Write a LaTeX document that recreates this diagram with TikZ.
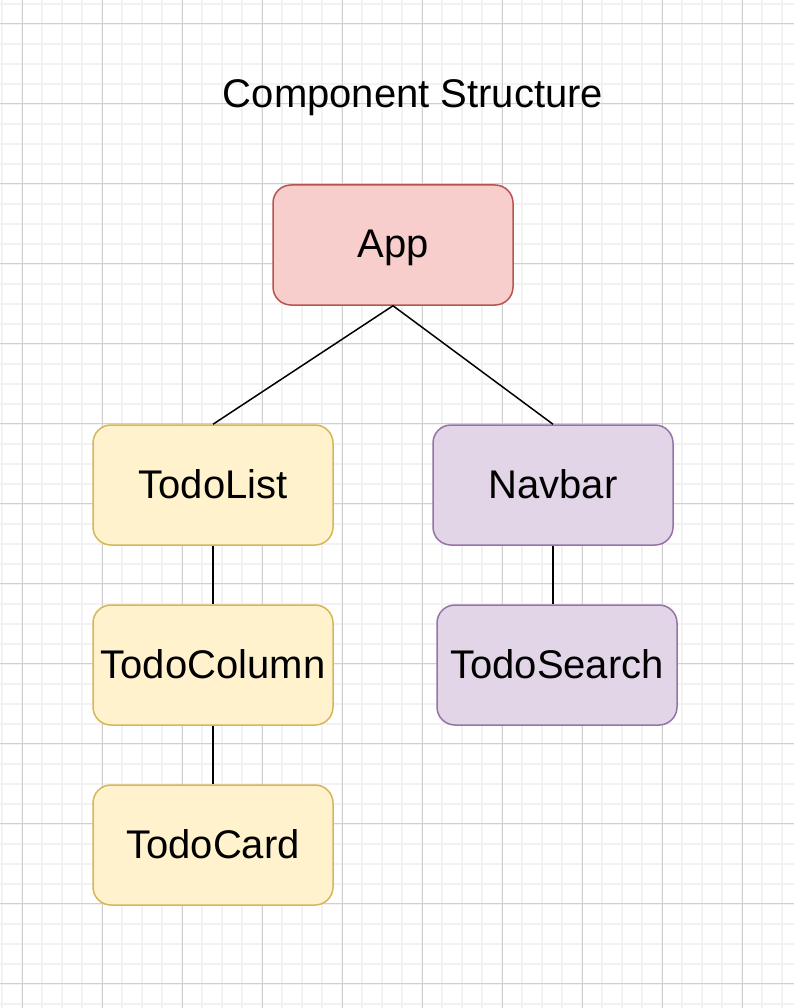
\documentclass[tikz,border=0pt]{standalone}
\usepackage{fontspec}
\setmainfont{Liberation Sans}
\definecolor{minorgrid}{HTML}{F2F2F2}
\definecolor{majorgrid}{HTML}{D0D0D0}
\definecolor{redfill}{HTML}{F8CECC}
\definecolor{redline}{HTML}{B85450}
\definecolor{yelfill}{HTML}{FFF2CC}
\definecolor{yelline}{HTML}{D6B656}
\definecolor{purfill}{HTML}{E1D5E7}
\definecolor{purline}{HTML}{9673A6}
\tikzset{
  compbox/.style={rectangle, rounded corners=18pt, line width=1.5pt,
    minimum width=240pt, minimum height=120pt, inner sep=0pt,
    text height=28pt, text depth=2pt,
    font=\fontsize{40}{47}\selectfont, text=black},
  redbox/.style={compbox, fill=redfill, draw=redline},
  yelbox/.style={compbox, fill=yelfill, draw=yelline},
  purbox/.style={compbox, fill=purfill, draw=purline},
  link/.style={line width=1.5pt, draw=black},
  titletext/.style={font=\fontsize{40}{47}\selectfont, text=black, inner sep=0pt,
    text height=28pt, text depth=2pt}
}
\begin{document}
\begin{tikzpicture}[x=1pt, y=-1pt]
\useasboundingbox (0,0) rectangle (794,1008);
\fill[white] (0,0) rectangle (794,1008);
% minor grid
\foreach \x in {2,22,...,794} { \draw[minorgrid, line width=2pt] (\x,0) -- (\x,1008); }
\foreach \y in {3.8,23.8,...,1008} { \draw[minorgrid, line width=2pt] (0,\y) -- (794,\y); }
% major grid
\foreach \x in {22,102,...,794} { \draw[majorgrid, line width=1pt] (\x,0) -- (\x,1008); }
\foreach \y in {23.8,103.8,...,1008} { \draw[majorgrid, line width=1pt] (0,\y) -- (794,\y); }

\node[titletext] (title) at (413,95) {Component Structure};

\node[redbox] (app) at (393,245) {App};
\node[yelbox] (todolist) at (213,485) {TodoList};
\node[purbox] (navbar) at (553,485) {Navbar};
\node[yelbox] (todocolumn) at (213,665) {TodoColumn};
\node[purbox] (todosearch) at (557,665) {TodoSearch};
\node[yelbox] (todocard) at (213,845) {TodoCard};

\draw[link] (app.south) -- (todolist.north);
\draw[link] (app.south) -- (navbar.north);
\draw[link] (todolist.south) -- (todocolumn.north);
\draw[link] (todocolumn.south) -- (todocard.north);
\draw[link] (navbar.south) -- (navbar.south |- todosearch.north);
\end{tikzpicture}
\end{document}
